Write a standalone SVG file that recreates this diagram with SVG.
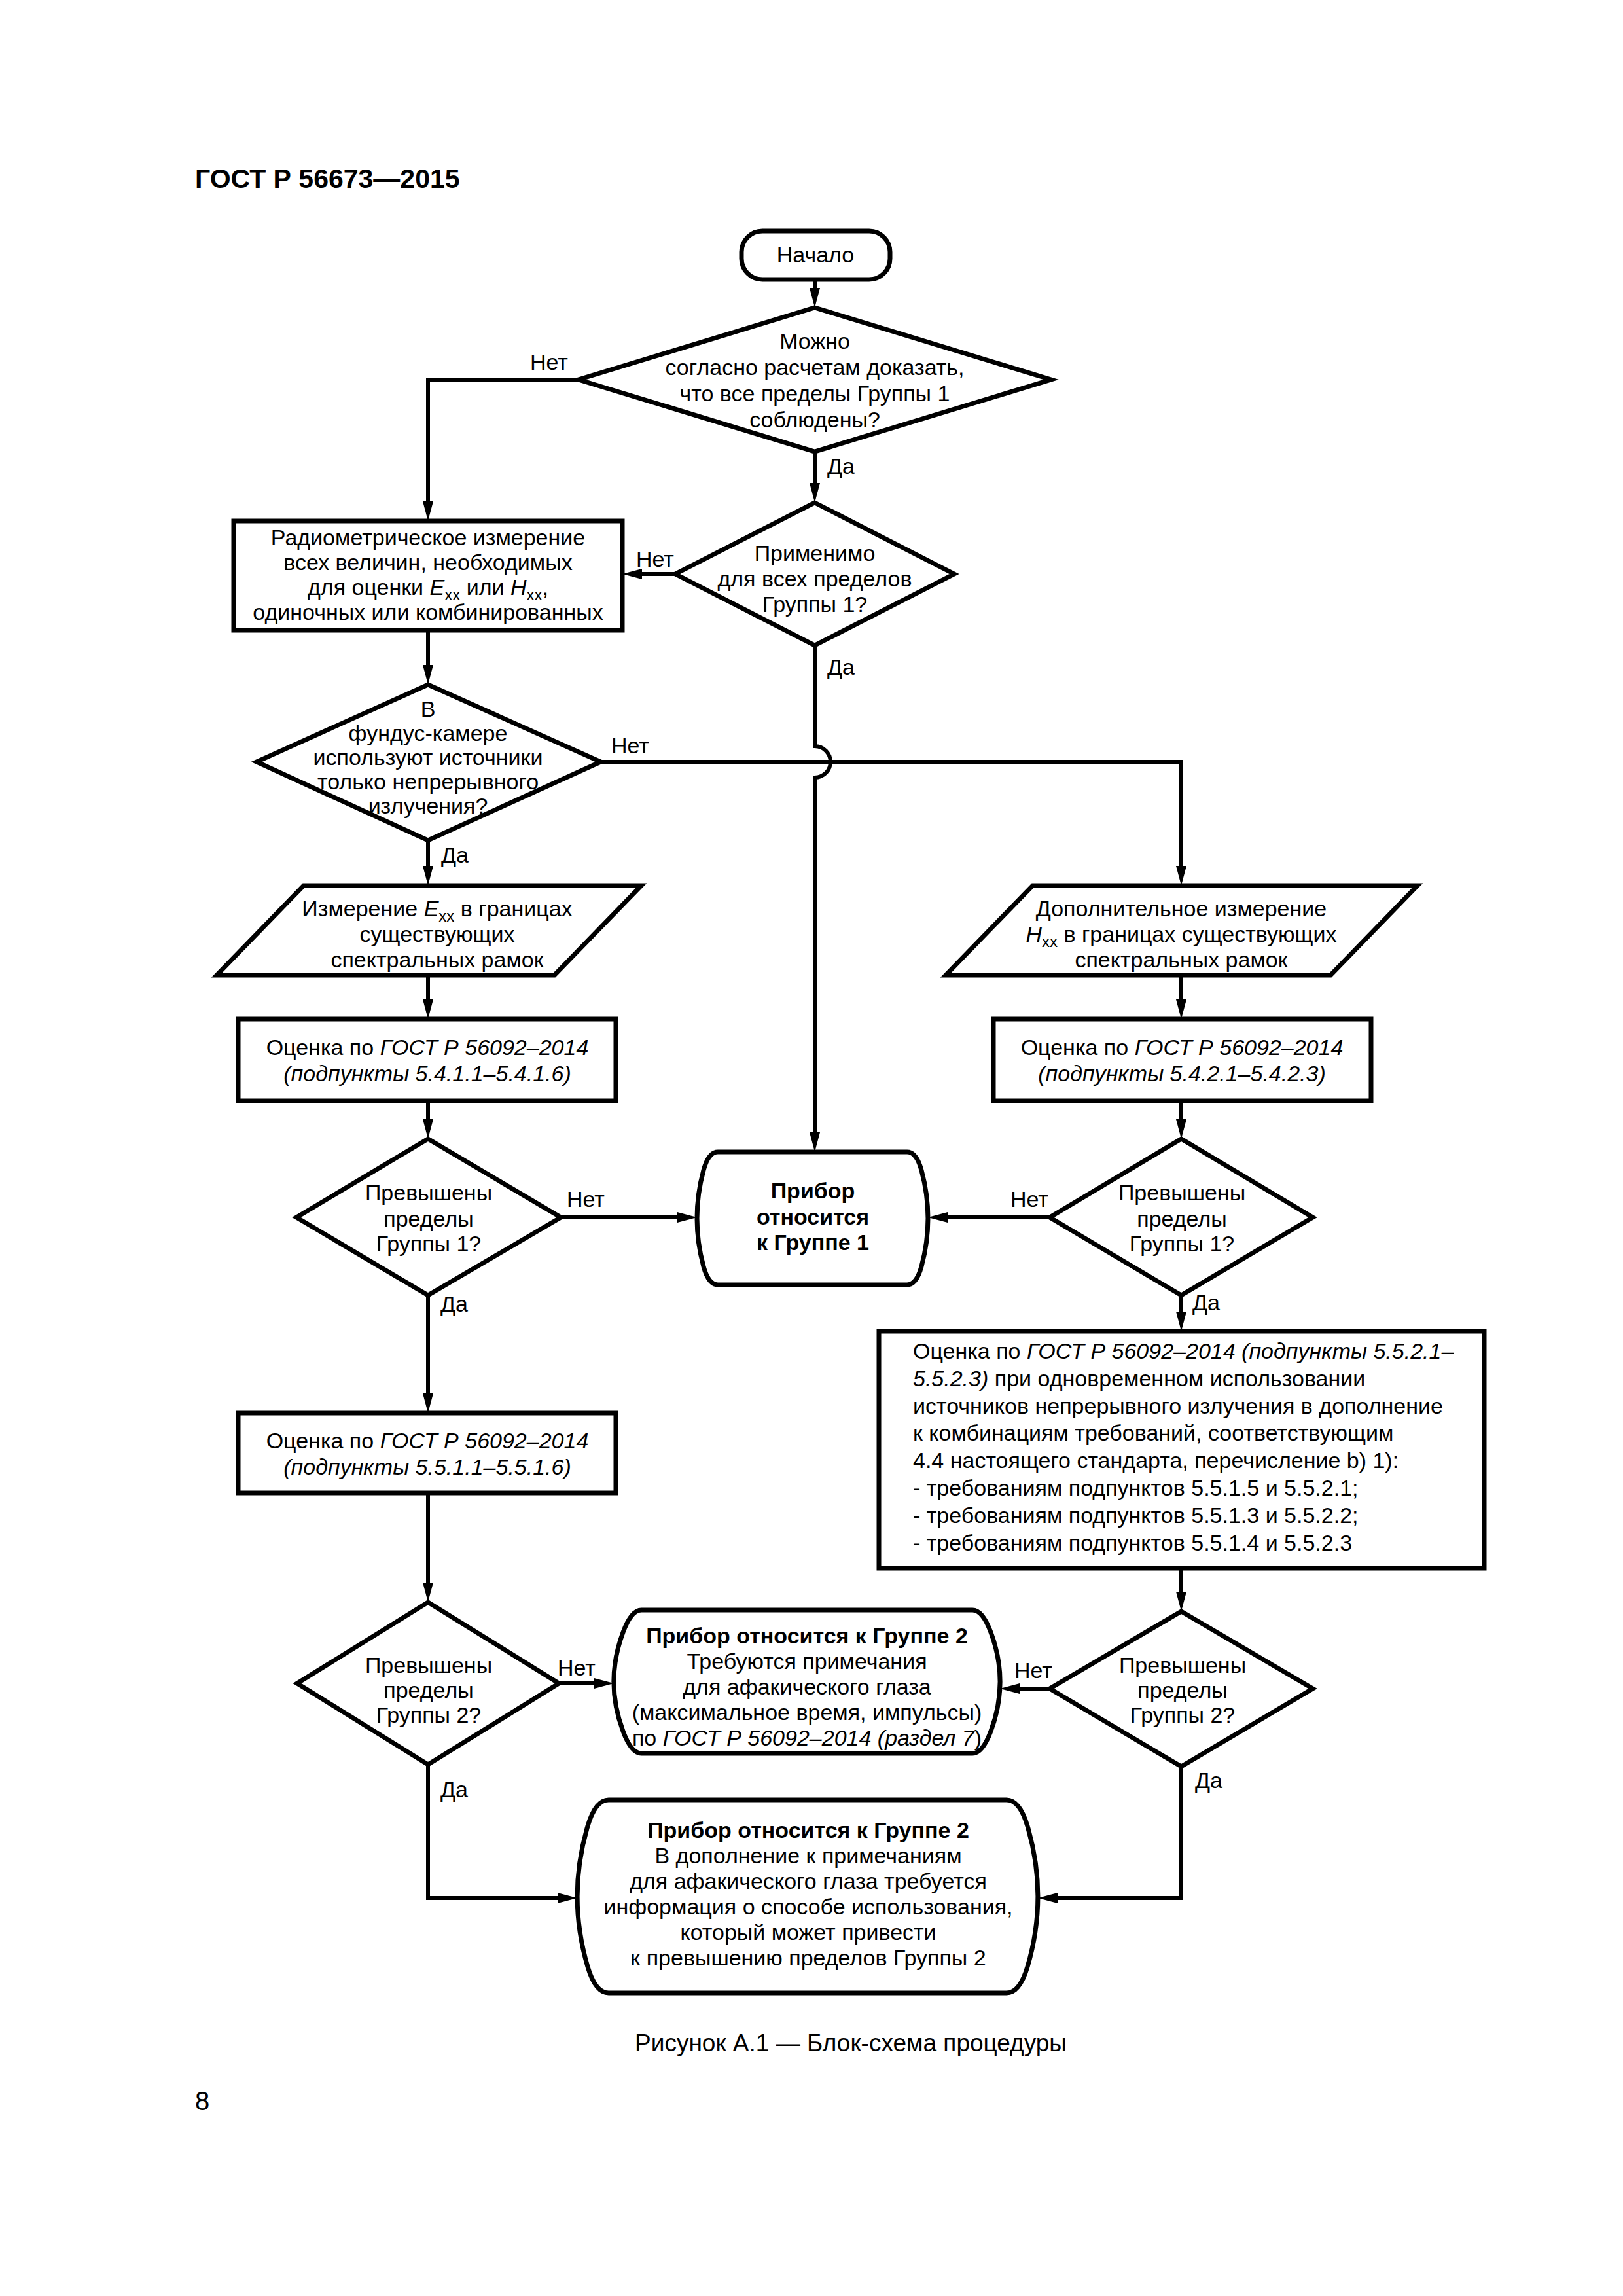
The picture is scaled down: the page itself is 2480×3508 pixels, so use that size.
<svg xmlns="http://www.w3.org/2000/svg" width="2480" height="3508" viewBox="0 0 2480 3508">
<style>
.t{font-family:"Liberation Sans",Arial,sans-serif;font-size:34px;fill:#000}
.c{text-anchor:middle}
.b{font-weight:bold}
.i{font-style:italic}
.s{font-size:24px}
.node{fill:#fff;stroke:#000;stroke-width:7;stroke-linejoin:miter}
.conn{fill:none;stroke:#000;stroke-width:6}
</style>
<defs>
<marker id="arr" markerUnits="userSpaceOnUse" markerWidth="32" markerHeight="16" refX="19" refY="8" orient="auto">
<path d="M0,0 L30,8 L0,16 Z" fill="#000"/>
</marker>
</defs>
<rect width="2480" height="3508" fill="#fff"/>
<text class="t b" x="298" y="287" style="font-size:41px">ГОСТ Р 56673—2015</text>

<g id="connectors">
<path class="conn" d="M1245,427 V459" marker-end="url(#arr)"/>
<path class="conn" d="M884,580 H654 V785" marker-end="url(#arr)"/>
<path class="conn" d="M1245,690 V757" marker-end="url(#arr)"/>
<path class="conn" d="M1032,877 H962" marker-end="url(#arr)"/>
<path class="conn" d="M1245,986 V1140 A24,24 0 0 1 1245,1188 V1749" marker-end="url(#arr)"/>
<path class="conn" d="M654,963 V1035" marker-end="url(#arr)"/>
<path class="conn" d="M918,1164 H1805 V1342" marker-end="url(#arr)"/>
<path class="conn" d="M654,1284 V1342" marker-end="url(#arr)"/>
<path class="conn" d="M654,1490 V1546" marker-end="url(#arr)"/>
<path class="conn" d="M1805,1490 V1546" marker-end="url(#arr)"/>
<path class="conn" d="M654,1682 V1729" marker-end="url(#arr)"/>
<path class="conn" d="M1805,1682 V1729" marker-end="url(#arr)"/>
<path class="conn" d="M857,1860 H1054" marker-end="url(#arr)"/>
<path class="conn" d="M1604,1860 H1429" marker-end="url(#arr)"/>
<path class="conn" d="M654,1979 V2148" marker-end="url(#arr)"/>
<path class="conn" d="M1805,1979 V2023" marker-end="url(#arr)"/>
<path class="conn" d="M654,2281 V2437" marker-end="url(#arr)"/>
<path class="conn" d="M1805,2396 V2451" marker-end="url(#arr)"/>
<path class="conn" d="M854,2572 H927" marker-end="url(#arr)"/>
<path class="conn" d="M1604,2580 H1539" marker-end="url(#arr)"/>
<path class="conn" d="M654,2696 V2900 H871" marker-end="url(#arr)"/>
<path class="conn" d="M1805,2699 V2900 H1597" marker-end="url(#arr)"/>
<text class="t" x="810" y="565">Нет</text>
<text class="t" x="1264" y="724">Да</text>
<text class="t" x="972" y="866">Нет</text>
<text class="t" x="1264" y="1031">Да</text>
<text class="t" x="934" y="1151">Нет</text>
<text class="t" x="674" y="1318">Да</text>
<text class="t" x="866" y="1844">Нет</text>
<text class="t" x="1544" y="1844">Нет</text>
<text class="t" x="673" y="2004">Да</text>
<text class="t" x="1822" y="2002">Да</text>
<text class="t" x="852" y="2560">Нет</text>
<text class="t" x="1550" y="2564">Нет</text>
<text class="t" x="673" y="2746">Да</text>
<text class="t" x="1826" y="2732">Да</text>
</g>

<g id="start">
<rect class="node" x="1133" y="353" width="227" height="74" rx="32"/>
<text class="t c" x="1246" y="401">Начало</text>
</g>

<g id="decision1">
<polygon class="node" points="1245,470 1606,580 1245,690 884,580"/>
<text class="t c" x="1245" y="533">Можно</text>
<text class="t c" x="1245" y="573">согласно расчетам доказать,</text>
<text class="t c" x="1245" y="613">что все пределы Группы 1</text>
<text class="t c" x="1245" y="653">соблюдены?</text>
</g>

<g id="radiometric">
<rect class="node" x="357" y="796" width="594" height="167"/>
<text class="t c" x="654" y="833">Радиометрическое измерение</text>
<text class="t c" x="654" y="871">всех величин, необходимых</text>
<text class="t c" x="654" y="909">для оценки <tspan class="i">E</tspan><tspan class="s" dy="8">xx</tspan><tspan dy="-8"> или </tspan><tspan class="i">H</tspan><tspan class="s" dy="8">xx</tspan><tspan dy="-8">,</tspan></text>
<text class="t c" x="654" y="947">одиночных или комбинированных</text>
</g>

<g id="decision2">
<polygon class="node" points="1245,768 1458,877 1245,986 1032,877"/>
<text class="t c" x="1245" y="857">Применимо</text>
<text class="t c" x="1245" y="896">для всех пределов</text>
<text class="t c" x="1245" y="935">Группы 1?</text>
</g>

<g id="decision3">
<polygon class="node" points="654,1046 918,1164 654,1284 392,1164"/>
<text class="t c" x="654" y="1095">В</text>
<text class="t c" x="654" y="1132">фундус-камере</text>
<text class="t c" x="654" y="1169">используют источники</text>
<text class="t c" x="654" y="1206">только непрерывного</text>
<text class="t c" x="654" y="1243">излучения?</text>
</g>

<g id="measureE">
<polygon class="node" points="464,1353 980,1353 847,1490 331,1490"/>
<text class="t c" x="668" y="1400">Измерение <tspan class="i">E</tspan><tspan class="s" dy="8">xx</tspan><tspan dy="-8"> в границах</tspan></text>
<text class="t c" x="668" y="1439">существующих</text>
<text class="t c" x="668" y="1478">спектральных рамок</text>
</g>

<g id="measureH">
<polygon class="node" points="1578,1353 2166,1353 2033,1490 1445,1490"/>
<text class="t c" x="1805" y="1400">Дополнительное измерение</text>
<text class="t c" x="1805" y="1439"><tspan class="i">H</tspan><tspan class="s" dy="8">xx</tspan><tspan dy="-8"> в границах существующих</tspan></text>
<text class="t c" x="1805" y="1478">спектральных рамок</text>
</g>

<g id="eval541">
<rect class="node" x="364" y="1557" width="577" height="125"/>
<text class="t c" x="653" y="1612">Оценка по <tspan class="i">ГОСТ Р 56092–2014</tspan></text>
<text class="t c i" x="653" y="1652">(подпункты 5.4.1.1–5.4.1.6)</text>
</g>

<g id="eval542">
<rect class="node" x="1518" y="1557" width="577" height="125"/>
<text class="t c" x="1806" y="1612">Оценка по <tspan class="i">ГОСТ Р 56092–2014</tspan></text>
<text class="t c i" x="1806" y="1652">(подпункты 5.4.2.1–5.4.2.3)</text>
</g>

<g id="decision4L">
<polygon class="node" points="654,1740 857,1860 654,1979 453,1860"/>
<text class="t c" x="655" y="1834">Превышены</text>
<text class="t c" x="655" y="1874">пределы</text>
<text class="t c" x="655" y="1912">Группы 1?</text>
</g>

<g id="group1">
<path class="node" d="M1097,1760 H1386 Q1400.4,1760 1408,1788 C1421.3,1837 1421.3,1886 1408,1935 Q1400.4,1963 1386,1963 H1097 Q1082.6,1963 1075,1935 C1061.7,1886 1061.7,1837 1075,1788 Q1082.6,1760 1097,1760 Z"/>
<text class="t c b" x="1242" y="1831">Прибор</text>
<text class="t c b" x="1242" y="1871">относится</text>
<text class="t c b" x="1242" y="1910">к Группе 1</text>
</g>

<g id="decision4R">
<polygon class="node" points="1805,1740 2006,1860 1805,1979 1604,1860"/>
<text class="t c" x="1806" y="1834">Превышены</text>
<text class="t c" x="1806" y="1874">пределы</text>
<text class="t c" x="1806" y="1912">Группы 1?</text>
</g>

<g id="eval551">
<rect class="node" x="364" y="2159" width="577" height="122"/>
<text class="t c" x="653" y="2213">Оценка по <tspan class="i">ГОСТ Р 56092–2014</tspan></text>
<text class="t c i" x="653" y="2253">(подпункты 5.5.1.1–5.5.1.6)</text>
</g>

<g id="eval552">
<rect class="node" x="1343" y="2034" width="925" height="362"/>
<text class="t" x="1395" y="2076">Оценка по <tspan class="i">ГОСТ Р 56092–2014 (подпункты 5.5.2.1–</tspan></text>
<text class="t" x="1395" y="2118"><tspan class="i">5.5.2.3)</tspan> при одновременном использовании</text>
<text class="t" x="1395" y="2160">источников непрерывного излучения в дополнение</text>
<text class="t" x="1395" y="2201">к комбинациям требований, соответствующим</text>
<text class="t" x="1395" y="2243">4.4 настоящего стандарта, перечисление b) 1):</text>
<text class="t" x="1395" y="2285">- требованиям подпунктов 5.5.1.5 и 5.5.2.1;</text>
<text class="t" x="1395" y="2327">- требованиям подпунктов 5.5.1.3 и 5.5.2.2;</text>
<text class="t" x="1395" y="2369">- требованиям подпунктов 5.5.1.4 и 5.5.2.3</text>
</g>

<g id="decision5L">
<polygon class="node" points="654,2448 854,2572 654,2696 454,2572"/>
<text class="t c" x="655" y="2556">Превышены</text>
<text class="t c" x="655" y="2594">пределы</text>
<text class="t c" x="655" y="2632">Группы 2?</text>
</g>

<g id="group2notes">
<path class="node" d="M980,2460 H1486 Q1501.4,2460 1514,2494 C1532.7,2544 1532.7,2595 1514,2645 Q1501.4,2679 1486,2679 H980 Q964.6,2679 952,2645 C933.3,2595 933.3,2544 952,2494 Q964.6,2460 980,2460 Z"/>
<text class="t c b" x="1233" y="2511">Прибор относится к Группе 2</text>
<text class="t c" x="1233" y="2550">Требуются примечания</text>
<text class="t c" x="1233" y="2589">для афакического глаза</text>
<text class="t c" x="1233" y="2628">(максимальное время, импульсы)</text>
<text class="t c" x="1233" y="2667">по <tspan class="i">ГОСТ Р 56092–2014 (раздел 7</tspan>)</text>
</g>

<g id="decision5R">
<polygon class="node" points="1805,2462 2006,2580 1805,2699 1604,2580"/>
<text class="t c" x="1807" y="2556">Превышены</text>
<text class="t c" x="1807" y="2594">пределы</text>
<text class="t c" x="1807" y="2632">Группы 2?</text>
</g>

<g id="group2info">
<path class="node" d="M930,2750 H1538 Q1558.1,2750 1570,2790 C1591.3,2862 1591.3,2933 1570,3005 Q1558.1,3045 1538,3045 H930 Q909.9,3045 898,3005 C876.7,2933 876.7,2862 898,2790 Q909.9,2750 930,2750 Z"/>
<text class="t c b" x="1235" y="2808">Прибор относится к Группе 2</text>
<text class="t c" x="1235" y="2847">В дополнение к примечаниям</text>
<text class="t c" x="1235" y="2886">для афакического глаза требуется</text>
<text class="t c" x="1235" y="2925">информация о способе использования,</text>
<text class="t c" x="1235" y="2964">который может привести</text>
<text class="t c" x="1235" y="3003">к превышению пределов Группы 2</text>
</g>

<text class="t c" x="1300" y="3134" style="font-size:37px">Рисунок А.1 — Блок-схема процедуры</text>
<text class="t" x="298" y="3224" style="font-size:40px">8</text>
</svg>
